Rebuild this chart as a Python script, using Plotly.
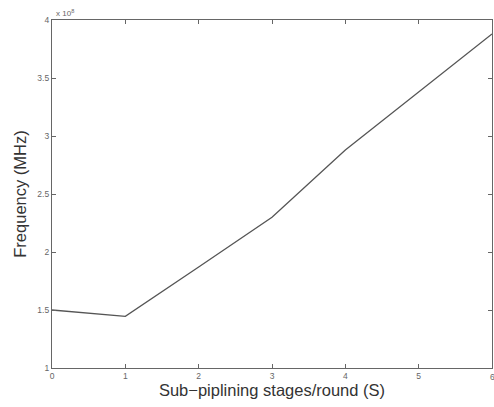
import plotly.graph_objects as go

stages = [0, 1, 2, 3, 4, 5, 6]
freq = [1.50, 1.445, 1.87, 2.30, 2.88, 3.38, 3.88]  # x 10^8

x_ticks = [0, 1, 2, 3, 4, 5, 6]
y_ticks = [1, 1.5, 2, 2.5, 3, 3.5, 4]
y_labels = ["1", "1.5", "2", "2.5", "3", "3.5", "4"]

tick_font = dict(family="Liberation Sans", size=8.5, color="#666666")

fig = go.Figure()
fig.add_trace(go.Scatter(x=stages, y=freq, mode="lines",
                         line=dict(color="#555555", width=1.3)))

axis_common = dict(showline=True, linecolor="#666666", linewidth=1.3, mirror="ticks",
                   ticks="inside", ticklen=4, tickcolor="#666666", showgrid=False,
                   zeroline=False, tickfont=tick_font)

fig.update_layout(
    width=494, height=407,
    margin=dict(l=52, r=2, t=20, b=39),
    paper_bgcolor="white", plot_bgcolor="white",
    showlegend=False,
    xaxis=dict(range=[0, 6], tickvals=x_ticks, automargin=False,
               title=dict(text="Sub\u2212piplining stages/round (S)", standoff=2,
                          font=dict(family="Liberation Sans", size=16.5, color="#333333")),
               **axis_common),
    yaxis=dict(range=[1, 4], tickvals=y_ticks, ticktext=y_labels,
               title=dict(text="Frequency (MHz)", standoff=6,
                          font=dict(family="Liberation Sans", size=16.5, color="#333333")),
               **axis_common),
    annotations=[
        dict(text="x 10<sup>8</sup>", x=0, y=1, xref="paper", yref="paper",
             xanchor="left", yanchor="bottom", xshift=2, yshift=0, showarrow=False,
             font=dict(family="Liberation Sans", size=8, color="#666666")),
        dict(text=str(x_ticks[-1]), x=x_ticks[-1], y=0, xref="x", yref="paper",
             xanchor="center", yanchor="top", yshift=-2, showarrow=False,
             font=tick_font),
    ],
)

fig.write_html("out.html")
